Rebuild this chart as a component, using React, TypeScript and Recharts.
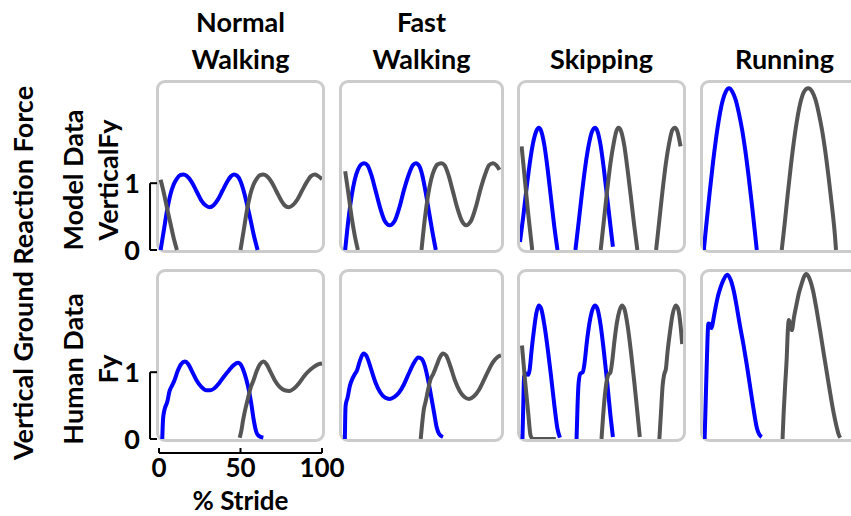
import React from 'react'
import { LineChart, Line, XAxis, YAxis, ReferenceLine } from 'recharts'

type Pt = [number, number | null]

// percent stride (x) vs vertical force (y)
// Model data row
const normalModelBlue: Pt[] = [[1,0],[3,0.3],[5,0.6],[7,0.83],[9,0.98],[11,1.07],[13,1.12],[15,1.13],[17,1.11],[20,1.02],[23,0.88],[26,0.74],[28.5,0.67],[31,0.64],[33.5,0.67],[36,0.75],[39,0.89],[42,1.03],[44,1.1],[46,1.13],[48,1.11],[50,1.03],[52,0.88],[54,0.68],[56,0.47],[58,0.24],[60.5,0]]
const normalModelGray: Pt[] = [[1,1.05],[3,0.85],[5,0.62],[7,0.4],[9,0.18],[11,0],[30,null],[50,0],[52,0.3],[54,0.6],[56,0.83],[58,0.98],[60,1.07],[62,1.12],[64,1.13],[66,1.11],[69,1.02],[72,0.88],[75,0.74],[77,0.67],[79.5,0.64],[82,0.67],[85,0.76],[88,0.9],[91,1.03],[93,1.1],[95.5,1.13],[97.5,1.11],[100,1.06]]

const fastModelBlue: Pt[] = [[2,0],[4,0.45],[6,0.8],[8,1.05],[10,1.2],[12,1.28],[14,1.3],[16,1.27],[18.5,1.12],[21,0.9],[24,0.63],[27,0.43],[30,0.37],[33,0.43],[36,0.63],[39,0.9],[42,1.13],[44.5,1.27],[46.5,1.3],[48.5,1.26],[50.5,1.12],[52.5,0.88],[54.5,0.6],[56.5,0.32],[59,0]]
const fastModelGray: Pt[] = [[2,1.18],[4,0.85],[6,0.5],[8,0.22],[10,0],[30,null],[50,0],[52,0.45],[54,0.8],[56,1.05],[58,1.2],[60,1.28],[62.5,1.3],[64.5,1.27],[67,1.12],[69.5,0.9],[72.5,0.63],[75.5,0.43],[78,0.37],[81,0.43],[84,0.63],[87,0.9],[90,1.13],[92.5,1.27],[95,1.3],[97,1.27],[99,1.2]]

const skipModelBlue: Pt[] = [[0,0.12],[2,0.5],[4,0.92],[6,1.3],[8,1.6],[10,1.78],[11.5,1.83],[13,1.78],[15,1.56],[17,1.2],[19,0.78],[21,0.36],[23,0],[28,null],[34,0],[36,0.42],[38,0.85],[40,1.24],[42,1.55],[44,1.76],[46,1.83],[47.5,1.78],[49.5,1.56],[51.5,1.2],[53.5,0.78],[55.5,0.36],[57,0.05]]
const skipModelGray: Pt[] = [[1,1.55],[3,1.05],[5,0.55],[7.5,0],[30,null],[49.5,0],[51.5,0.45],[53.5,0.9],[55.5,1.3],[57.5,1.6],[59,1.77],[60.5,1.83],[62,1.78],[64,1.56],[66,1.2],[68,0.8],[70,0.38],[72,0],[78,null],[83.5,0],[85.5,0.45],[87.5,0.9],[89.5,1.3],[91.5,1.6],[93.5,1.8],[95,1.83],[96.5,1.78],[98.5,1.55]]

const runModelBlue: Pt[] = [[0.5,0],[2,0.37],[4,0.84],[6,1.28],[8,1.67],[10,1.99],[12,2.23],[14,2.37],[16,2.42],[18,2.37],[20,2.25],[22,2.05],[24,1.8],[26,1.48],[28,1.1],[30,0.68],[32,0.23],[33,0]]
const runModelGray: Pt[] = [[48.3,0],[50,0.37],[52,0.84],[54,1.28],[56,1.67],[58,1.99],[60,2.23],[62,2.37],[64.5,2.42],[67,2.37],[69,2.25],[71,2.05],[73,1.8],[75,1.48],[77,1.1],[79,0.68],[81,0.2],[81.6,0]]

// Human data row
const normalHumanBlue: Pt[] = [[2,0],[2.5,0.3],[3.5,0.45],[5,0.55],[6.5,0.72],[8,0.8],[9.5,0.88],[11.5,1.02],[13.5,1.12],[16,1.16],[18,1.12],[20.5,1.0],[23,0.88],[26,0.78],[29,0.73],[31.5,0.73],[34,0.76],[37,0.84],[40,0.94],[43,1.03],[46,1.11],[48.5,1.14],[50.5,1.1],[52.5,0.98],[54.5,0.8],[56.5,0.55],[58,0.3],[59.5,0.12],[61,0.05],[64,0.02]]
const normalHumanGray: Pt[] = [[49.5,0.02],[50.5,0.12],[51.5,0.27],[53,0.45],[54.5,0.6],[56,0.75],[58,0.88],[60,1.02],[62,1.12],[64,1.16],[66,1.12],[68.5,1.0],[71,0.88],[74,0.78],[77,0.73],[80,0.72],[83,0.76],[86,0.84],[89,0.94],[92,1.02],[95,1.08],[98,1.12],[100,1.13]]

const fastHumanBlue: Pt[] = [[1.8,0],[2,0.3],[2.3,0.5],[3.5,0.62],[5,0.8],[6.5,0.9],[8,0.97],[9.5,1.03],[11,1.15],[13.5,1.28],[15.5,1.24],[18,1.07],[21,0.85],[24,0.7],[27,0.62],[30,0.6],[33,0.63],[36,0.7],[39,0.82],[42,0.98],[45,1.13],[48,1.22],[50,1.2],[52,1.1],[54,0.9],[56,0.65],[58,0.38],[59.5,0.18],[61,0.08],[63.5,0.03]]
const fastHumanGray: Pt[] = [[49.5,0],[50.5,0.25],[51.5,0.45],[52.5,0.55],[54,0.72],[55.5,0.88],[57.5,0.98],[59.5,1.1],[61.5,1.22],[63.5,1.28],[65.5,1.25],[68,1.1],[71,0.88],[74,0.72],[77,0.63],[80,0.6],[83,0.64],[86,0.73],[89,0.87],[92,1.02],[95,1.15],[98,1.23],[100,1.25]]

const skipHumanBlue: Pt[] = [[1.5,0],[2,0.5],[2.5,0.93],[3.5,0.98],[5,0.96],[6,1.05],[7,1.3],[8.5,1.62],[10,1.88],[11.5,2.0],[13,1.95],[15,1.7],[17,1.35],[19,0.95],[21,0.52],[23,0.15],[24.5,0.02],[29,null],[34.7,0],[35.3,0.5],[36,0.85],[37,0.98],[38.5,1.0],[39.5,1.12],[41,1.45],[42.5,1.72],[44,1.9],[46,2.0],[47.5,1.95],[49.5,1.7],[51.5,1.3],[53.5,0.85],[55.5,0.35],[57,0.03]]
const skipHumanGray: Pt[] = [[1.2,1.4],[3,0.9],[5,0.4],[6.5,0.05],[8,0],[22,0],[35,null],[50,0],[51,0.35],[52.5,0.75],[54,0.95],[55.5,1.0],[56.5,1.15],[58,1.48],[59.5,1.75],[61,1.92],[62.5,2.0],[64,1.95],[66,1.7],[68,1.32],[70,0.88],[72,0.4],[73.5,0.03],[80,null],[85.5,0],[86.5,0.4],[87.5,0.8],[88.5,0.97],[89.5,1.05],[90.5,1.3],[92,1.6],[93.5,1.85],[95.5,2.0],[97,1.95],[98.5,1.7],[99.5,1.42]]

const runHumanBlue: Pt[] = [[1,0],[1.7,0.6],[2.4,1.2],[3.3,1.73],[4.3,1.72],[5.3,1.66],[6.3,1.78],[7.4,1.93],[9,2.12],[10.5,2.25],[12.5,2.38],[15,2.46],[17,2.38],[19,2.2],[20.7,1.98],[22.5,1.72],[24.7,1.43],[26.8,1.12],[28.8,0.8],[31,0.45],[33,0.17],[34.5,0.07],[36,0.03]]
const runHumanGray: Pt[] = [[48.8,0],[49.5,0.4],[50.5,0.85],[51.3,1.18],[52,1.6],[52.6,1.78],[53.5,1.72],[54.5,1.63],[55.8,1.82],[57.5,2.03],[59,2.2],[60.6,2.33],[62,2.43],[63.2,2.47],[65,2.42],[67.5,2.22],[69.8,1.92],[72,1.6],[74,1.29],[76,0.99],[78,0.69],[80,0.41],[82,0.18],[83.2,0.07],[84.2,0.02]]

const columns = ['Normal\nWalking', 'Fast\nWalking', 'Skipping', 'Running']
const rowsLabels = [['Model Data', 'VerticalFy'], ['Human Data', 'Fy']]
const yTicks = [0, 1]
const xTicks = [0, 50, 100]

const panelData: Pt[][][] = [
  [[normalModelBlue, normalModelGray], [fastModelBlue, fastModelGray], [skipModelBlue, skipModelGray], [runModelBlue, runModelGray]],
  [[normalHumanBlue, normalHumanGray], [fastHumanBlue, fastHumanGray], [skipHumanBlue, skipHumanGray], [runHumanBlue, runHumanGray]],
]

// inner plot boxes (page px)
const COLS = [{ left: 159, width: 163 }, { left: 342, width: 159 }, { left: 520, width: 163 }, { left: 703, width: 163 }]
const ROWS = [{ top: 83, height: 167 }, { top: 272, height: 167 }]

const FONT = 'Lato, "Open Sans", sans-serif'
const toXY = (pts: Pt[]) => pts.map(([x, y]) => ({ x, y }))

function Panel({ row, col }: { row: number; col: number }) {
  const c = COLS[col]
  const r = ROWS[row]
  const showY = col === 0
  const showX = row === 1 && col === 0
  const yW = showY ? 50 : 0
  const xH = showX ? 77 : 0
  const padTop = showY ? 15 : 0
  const padBottom = showY && !showX ? 15 : 0
  const padRight = showX ? 30 : 0
  const [blue, gray] = panelData[row][col]
  const tickStyle = { fill: '#000', fontSize: 27, fontFamily: FONT, fontWeight: 700 }
  return (
    <>
      <div
        style={{
          position: 'absolute', left: c.left - 3, top: r.top - 3, width: c.width + 6, height: r.height + 6,
          border: '3px solid #cccccc', borderRadius: 9, boxSizing: 'border-box',
        }}
      />
      <div style={{ position: 'absolute', left: c.left - yW, top: r.top - padTop }}>
        <LineChart
          width={c.width + yW + padRight}
          height={r.height + xH + padTop + padBottom}
          margin={{ top: padTop, right: padRight, bottom: padBottom, left: 0 }}
        >
          <XAxis
            type="number" dataKey="x" domain={[0, 100]} ticks={xTicks} hide={!showX}
            axisLine={false} tickLine={false} tickSize={0} tickMargin={20} height={xH}
            tick={{ ...tickStyle, fontSize: 26 }} interval={0}
            label={{ value: '% Stride', position: 'insideBottom', offset: 6, style: { ...tickStyle, fontSize: 26 } }}
          />
          <YAxis
            type="number" domain={[0, 2.5]} ticks={yTicks} hide={!showY}
            axisLine={false} tickLine={false} tickSize={0} tickMargin={19} width={yW}
            tick={tickStyle} interval={0}
          />
          {showY && (
            <>
              <ReferenceLine segment={[{ x: -5.5, y: 0 }, { x: -5.5, y: 1 }]} stroke="#000" strokeWidth={2} ifOverflow="visible" />
              <ReferenceLine segment={[{ x: -5.5, y: 0 }, { x: -1.2, y: 0 }]} stroke="#000" strokeWidth={2} ifOverflow="visible" />
              <ReferenceLine segment={[{ x: -5.5, y: 1 }, { x: -1.2, y: 1 }]} stroke="#000" strokeWidth={2} ifOverflow="visible" />
            </>
          )}
          {showX && (
            <>
              <ReferenceLine segment={[{ x: 0, y: -0.21 }, { x: 100, y: -0.21 }]} stroke="#000" strokeWidth={2} ifOverflow="visible" />
              {xTicks.map(t => (
                <ReferenceLine key={t} segment={[{ x: t, y: -0.21 }, { x: t, y: -0.135 }]} stroke="#000" strokeWidth={2} ifOverflow="visible" />
              ))}
            </>
          )}
          <Line data={toXY(blue)} dataKey="y" type="monotone" stroke="#0000ff" strokeWidth={4} dot={false} isAnimationActive={false} />
          <Line data={toXY(gray)} dataKey="y" type="monotone" stroke="#555555" strokeWidth={4} dot={false} isAnimationActive={false} />
        </LineChart>
      </div>
    </>
  )
}

export default function App() {
  const textStyle = { fontFamily: FONT, fontWeight: 700, fontSize: 27, fill: '#000' }
  return (
    <div style={{ position: 'absolute', left: 0, top: 0, width: 851, height: 516, overflow: 'hidden', background: '#fff' }}>
      {[0, 1].map(row => [0, 1, 2, 3].map(col => <Panel key={`${row}-${col}`} row={row} col={col} />))}
      <svg width={851} height={516} style={{ position: 'absolute', left: 0, top: 0, pointerEvents: 'none' }}>
        {columns.map((title, i) => {
          const cx = COLS[i].left + COLS[i].width / 2
          const lines = title.split('\n')
          return lines.map((ln, j) => (
            <text key={`${i}-${j}`} x={cx} y={69 - (lines.length - 1 - j) * 37} textAnchor="middle" style={textStyle}>{ln}</text>
          ))
        })}
        <text x={33} y={273} transform="rotate(-90 33 273)" textAnchor="middle" style={textStyle}>Vertical Ground Reaction Force</text>
        {rowsLabels.map(([a, b], i) => {
          const cy = ROWS[i].top + 97
          return (
            <g key={i}>
              <text x={83} y={cy} transform={`rotate(-90 83 ${cy})`} textAnchor="middle" style={textStyle}>{a}</text>
              <text x={118} y={cy} transform={`rotate(-90 118 ${cy})`} textAnchor="middle" style={textStyle}>{b}</text>
            </g>
          )
        })}
      </svg>
    </div>
  )
}
